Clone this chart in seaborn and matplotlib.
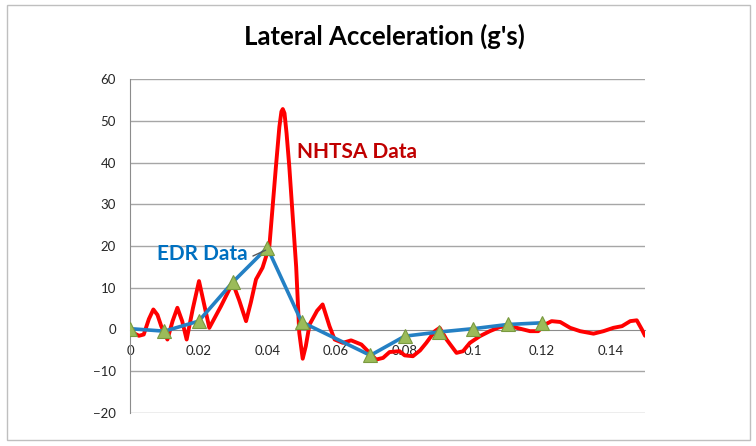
import matplotlib
matplotlib.use("Agg")
import matplotlib.pyplot as plt
import seaborn as sns
import pandas as pd
from matplotlib.patches import Rectangle

# ---- data ----
nhtsa_t = [0.000, 0.0026, 0.004, 0.0055, 0.0068, 0.0080, 0.0091, 0.0109, 0.0124, 0.0138,
           0.0152, 0.0165, 0.0183, 0.0201, 0.0216, 0.0231, 0.0265, 0.0299, 0.0318, 0.0338,
           0.0352, 0.0367, 0.0386, 0.0406, 0.0425, 0.0435, 0.0441, 0.0445, 0.0450, 0.0456,
           0.0464, 0.0484, 0.0493, 0.0503, 0.0512, 0.0523, 0.0545, 0.0561, 0.0581, 0.0596,
           0.062, 0.0644, 0.0674, 0.0693, 0.0717, 0.0737, 0.0756, 0.0785, 0.080, 0.0824,
           0.0845, 0.0863, 0.0888, 0.0902, 0.0922, 0.0951, 0.097, 0.099, 0.1019, 0.1048,
           0.1077, 0.1107, 0.1136, 0.1165, 0.1189, 0.1209, 0.1228, 0.1253, 0.1282, 0.1311,
           0.135, 0.1379, 0.1408, 0.1433, 0.1457, 0.1476, 0.1491, 0.150]
nhtsa_g = [-0.4, -1.5, -1.2, 2.5, 4.8, 3.5, 0.8, -2.4, 2.0, 5.2,
           2.0, -2.4, 5.0, 11.6, 6.0, 0.4, 5.6, 11.2, 7.0, 2.0,
           6.5, 12.0, 14.8, 20.0, 39.0, 48.5, 52.2, 52.8, 51.8, 47.0,
           39.0, 15.0, -0.8, -7.0, -4.0, 1.2, 4.5, 6.0, 0.8, -2.4,
           -3.2, -2.6, -3.6, -5.2, -7.2, -6.8, -5.4, -5.2, -6.2, -6.4,
           -5.0, -3.2, -0.4, 0.4, -2.4, -5.6, -5.2, -3.2, -1.6, -0.4,
           0.6, 0.8, 0.2, -0.4, -0.4, 1.2, 2.0, 1.8, 0.4, -0.4,
           -1.0, -0.4, 0.4, 0.8, 2.0, 2.2, 0.0, -1.5]

edr_t = [0.00, 0.01, 0.02, 0.03, 0.04, 0.05, 0.07, 0.08, 0.09, 0.10, 0.11, 0.12]
edr_g = [0.2, -0.4, 2.0, 11.4, 19.6, 1.8, -6.2, -1.6, -0.6, 0.2, 1.2, 1.6]

x_ticks = [0, 0.02, 0.04, 0.06, 0.08, 0.1, 0.12, 0.14]
x_tick_labels = ["0", "0.02", "0.04", "0.06", "0.08", "0.1", "0.12", "0.14"]
y_ticks = [-20, -10, 0, 10, 20, 30, 40, 50, 60]

title = "Lateral Acceleration (g's)"

nhtsa_df = pd.DataFrame({"t": nhtsa_t, "g": nhtsa_g})
edr_df = pd.DataFrame({"t": edr_t, "g": edr_g})

sns.set_style("white")
plt.rcParams["font.family"] = ["Lato", "DejaVu Sans"]

fig = plt.figure(figsize=(7.56, 4.46), dpi=100)
ax = fig.add_axes([130/756, 1-413/446, (645-130)/756, (413-79)/446])

# chart border
fig.patches.append(Rectangle((7/756, 6/446), (750-7)/756, (441-6)/446,
                             transform=fig.transFigure, fill=False,
                             edgecolor="#BFBFBF", linewidth=1))

for y in y_ticks:
    if y != 0:
        ax.axhline(y, color="#A6A6A6", linewidth=1, zorder=0)

sns.lineplot(data=nhtsa_df, x="t", y="g", ax=ax, color="#FF0000", linewidth=2.8,
             sort=False, zorder=3)
sns.lineplot(data=edr_df, x="t", y="g", ax=ax, color="#2480C4", linewidth=2.6,
             marker="^", markersize=10, markerfacecolor="#9BBB59",
             markeredgecolor="#7A9A40", markeredgewidth=0.8, zorder=4)

ax.set_xlim(0, 0.15)
ax.set_ylim(-20, 60)
ax.set_xticks(x_ticks)
ax.set_xticklabels(x_tick_labels)
ax.set_yticks(y_ticks)
ax.set_xlabel("")
ax.set_ylabel("")

for s in ["top", "right"]:
    ax.spines[s].set_visible(False)
ax.spines["bottom"].set_position(("data", 0))
ax.spines["bottom"].set_color("#8C8C8C")
ax.spines["left"].set_color("#8C8C8C")
ax.spines["bottom"].set_zorder(1)
ax.tick_params(axis="x", direction="out", length=5, color="#8C8C8C",
               labelsize=9.5, labelcolor="#262626", pad=6)
ax.tick_params(axis="y", direction="out", length=4, color="#8C8C8C",
               labelsize=9.5, labelcolor="#262626", pad=6)

fig.text(384/756, 1-36/446, title, ha="center", va="center",
         fontsize=18.5, fontweight="bold", color="#000000")

ax.text(0.0485, 42.5, "NHTSA Data", ha="left", va="center",
        fontsize=15, fontweight="bold", color="#C00000")
ax.text(0.0079, 18.0, "EDR Data", ha="left", va="center",
        fontsize=15, fontweight="bold", color="#0070C0")
ax.plot([0.0358, 0.0395], [17.6, 19.0], color="#595959", linewidth=1, zorder=5)

fig.savefig("out.png", dpi=100)
